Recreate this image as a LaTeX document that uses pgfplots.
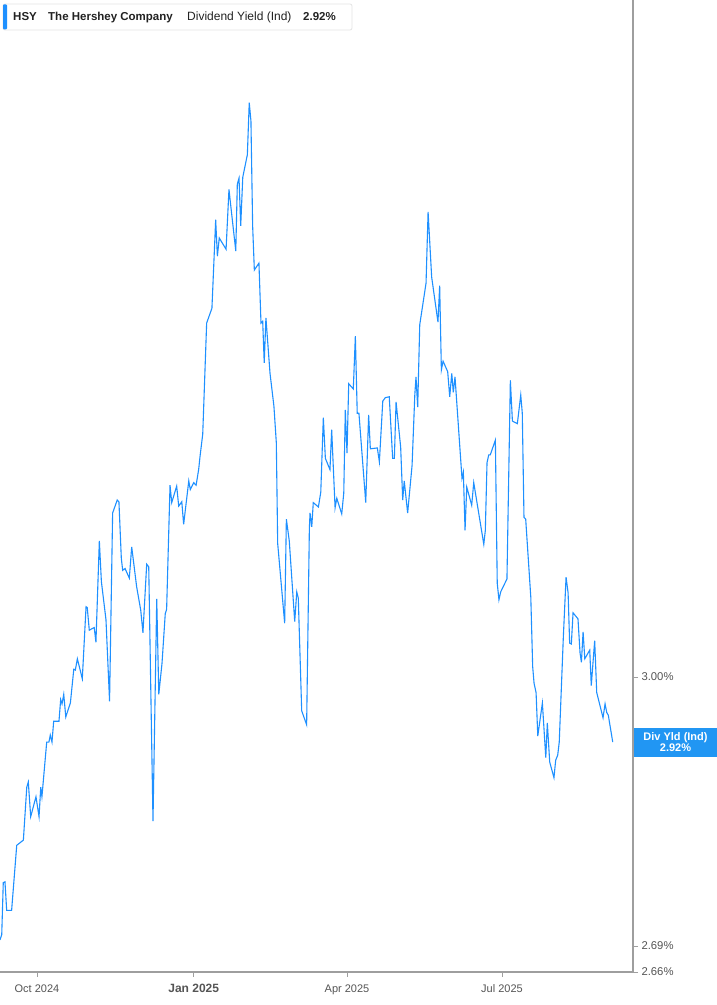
\documentclass[border=0pt]{standalone}
\usepackage{fontspec}
\setmainfont{Liberation Sans}
\usepackage{pgfplots}
\pgfplotsset{compat=1.18}
\definecolor{hsyblue}{RGB}{30,144,255}
\definecolor{tagblue}{RGB}{33,150,243}
\definecolor{axisgray}{RGB}{158,158,158}
\definecolor{labelgray}{RGB}{85,85,85}
\definecolor{txt}{RGB}{34,34,34}
\definecolor{boxline}{RGB}{228,228,228}
\begin{document}
\begin{tikzpicture}
\fill[white] (0pt,-33pt) rectangle (717pt,972pt);
\begin{axis}[
  at={(0pt,0pt)}, anchor=south west,
  scale only axis, width=633pt, height=972pt,
  xmin=-21.72, xmax=349.9, ymin=2.66, ymax=3.7803,
  axis x line*=bottom, axis y line*=right,
  axis line style={axisgray, line width=1.4pt},
  xtick={0,92,182,273},
  xticklabels={Oct 2024,{\bfseries\fontsize{12}{13}\selectfont Jan 2025},Apr 2025,Jul 2025},
  ytick={2.66,2.69,3.00},
  yticklabels={2.66\%,2.69\%,3.00\%},
  tick style={axisgray, line width=0.8pt},
  major tick length=5pt,
  tick align=outside,
  xticklabel style={font=\fontsize{11}{12}\selectfont, text=labelgray, yshift=-4pt},
  yticklabel style={font=\fontsize{11.3}{12}\selectfont, text=labelgray},
]
% dividend yield (%), x = days since 1 Oct 2024
\addplot[hsyblue, line width=1.1pt, mark=none] coordinates {
(-21.7,2.697) (-20.7,2.703) (-19.8,2.763) (-18.8,2.764) (-17.8,2.731) (-14.9,2.731)
(-11.9,2.806) (-8.0,2.812) (-6.0,2.873) (-5.1,2.879) (-3.7,2.839) (-0.6,2.862)
(1.2,2.839) (2.2,2.873) (2.9,2.862) (5.7,2.925) (7.0,2.925) (7.8,2.933) (8.8,2.925)
(9.8,2.949) (12.9,2.949) (13.9,2.974) (14.7,2.969) (15.7,2.980) (16.9,2.954)
(19.6,2.970) (21.6,3.009) (22.5,3.008) (23.7,3.021) (26.6,2.998) (28.8,3.081)
(29.5,3.080) (30.7,3.054) (33.6,3.057) (34.6,3.040) (36.6,3.157) (37.8,3.110)
(40.5,3.066) (42.6,2.972) (44.4,3.189) (47.1,3.204) (48.1,3.202) (49.5,3.137)
(50.3,3.123) (51.7,3.125) (54.2,3.114) (55.6,3.150) (58.5,3.104) (60.9,3.077)
(62.2,3.051) (64.4,3.130) (65.6,3.127) (68.1,2.834) (70.3,3.090) (71.5,2.980)
(73.4,3.016) (75.3,3.073) (76.1,3.078) (78.1,3.221) (79.1,3.201) (82.0,3.220)
(83.2,3.197) (85.0,3.202) (86.1,3.176) (89.1,3.226) (90.0,3.216) (92.0,3.224)
(93.4,3.221) (94.9,3.239) (95.7,3.254) (97.3,3.280) (99.6,3.408) (102.7,3.425)
(104.9,3.527) (105.9,3.485) (107.0,3.506) (111.0,3.493) (112.7,3.562) (116.7,3.491)
(117.6,3.568) (118.6,3.575) (119.6,3.520) (120.8,3.576) (123.5,3.602) (124.6,3.662)
(125.6,3.641) (126.6,3.520) (127.6,3.469) (130.3,3.477) (131.5,3.408) (132.5,3.410)
(133.4,3.362) (134.4,3.414) (136.8,3.350) (139.1,3.312) (140.5,3.270) (141.3,3.154)
(145.4,3.062) (146.4,3.182) (148.1,3.157) (151.3,3.064) (152.5,3.098) (153.4,3.091)
(155.4,2.961) (158.3,2.945) (159.9,3.171) (160.3,3.189) (161.3,3.173) (162.2,3.201)
(165.2,3.196) (166.6,3.213) (168.1,3.299) (169.3,3.252) (172.0,3.239) (173.0,3.285)
(175.0,3.195) (176.0,3.206) (178.9,3.188) (180.1,3.212) (181.0,3.308) (182.0,3.258)
(183.0,3.338) (185.7,3.332) (186.9,3.393) (188.0,3.304) (189.0,3.304) (193.0,3.201)
(194.7,3.302) (195.7,3.263) (199.8,3.264) (201.0,3.248) (203.0,3.318) (204.5,3.322)
(206.8,3.323) (208.8,3.252) (209.8,3.252) (210.8,3.317) (213.5,3.265) (214.7,3.204)
(215.6,3.226) (217.6,3.189) (220.2,3.244) (221.8,3.325) (222.5,3.346) (223.5,3.311)
(224.7,3.406) (228.4,3.454) (229.6,3.536) (231.7,3.461) (235.4,3.409) (236.4,3.451)
(237.4,3.354) (238.4,3.364) (241.1,3.352) (242.3,3.323) (243.5,3.350) (244.4,3.328)
(245.4,3.346) (249.5,3.229) (250.3,3.236) (251.3,3.169) (252.3,3.219) (255.2,3.198)
(256.4,3.224) (262.3,3.153) (263.2,3.169) (264.2,3.247) (265.2,3.256) (266.1,3.256)
(269.1,3.273) (270.2,3.108) (271.2,3.089) (272.2,3.098) (275.9,3.113) (277.9,3.342)
(279.1,3.295) (282.0,3.292) (284.0,3.325) (284.9,3.304) (285.9,3.184) (286.9,3.182)
(289.9,3.092) (291.0,3.012) (291.8,2.993) (293.0,2.982) (294.0,2.932) (296.7,2.970)
(298.7,2.907) (299.6,2.947) (301.0,2.902) (303.5,2.884) (304.5,2.904) (305.7,2.910)
(306.6,2.925) (309.0,3.046) (310.6,3.115) (311.8,3.097) (312.7,3.039) (313.7,3.038)
(314.7,3.074) (317.6,3.067) (318.8,3.028) (319.6,3.017) (320.6,3.052) (321.6,3.021)
(324.5,3.031) (325.4,2.990) (327.4,3.042) (328.6,2.982) (332.3,2.953) (333.5,2.969)
(334.5,2.959) (335.4,2.956) (338.0,2.925)
};
\coordinate (tag) at (axis cs:349.9,2.9245);
\end{axis}
% last value tag on the right axis
\node[anchor=west, fill=tagblue, text=white, minimum width=83pt, minimum height=29pt,
  inner sep=0pt, align=center, font=\bfseries\fontsize{11}{11}\selectfont]
  at ([xshift=0.8pt]tag) {Div Yld (Ind)\\2.92\%};
% header box
\draw[boxline, fill=white, rounded corners=2pt, line width=0.8pt] (3pt,968pt) rectangle (352pt,942pt);
\fill[hsyblue, rounded corners=1pt] (3pt,967.5pt) rectangle (7pt,942.5pt);
\begin{scope}[every node/.style={anchor=base west, inner sep=0pt, text=txt}]
\node[font=\bfseries\fontsize{11.5}{13}\selectfont] at (13pt,951pt) {HSY};
\node[font=\bfseries\fontsize{11.5}{13}\selectfont] at (48pt,951pt) {The Hershey Company};
\node[font=\fontsize{12}{13}\selectfont] at (187pt,951pt) {Dividend Yield (Ind)};
\node[font=\bfseries\fontsize{11.5}{13}\selectfont] at (303pt,951pt) {2.92\%};
\end{scope}
\pgfresetboundingbox
\useasboundingbox (0pt,-33pt) rectangle (717pt,972pt);
\end{tikzpicture}
\end{document}
